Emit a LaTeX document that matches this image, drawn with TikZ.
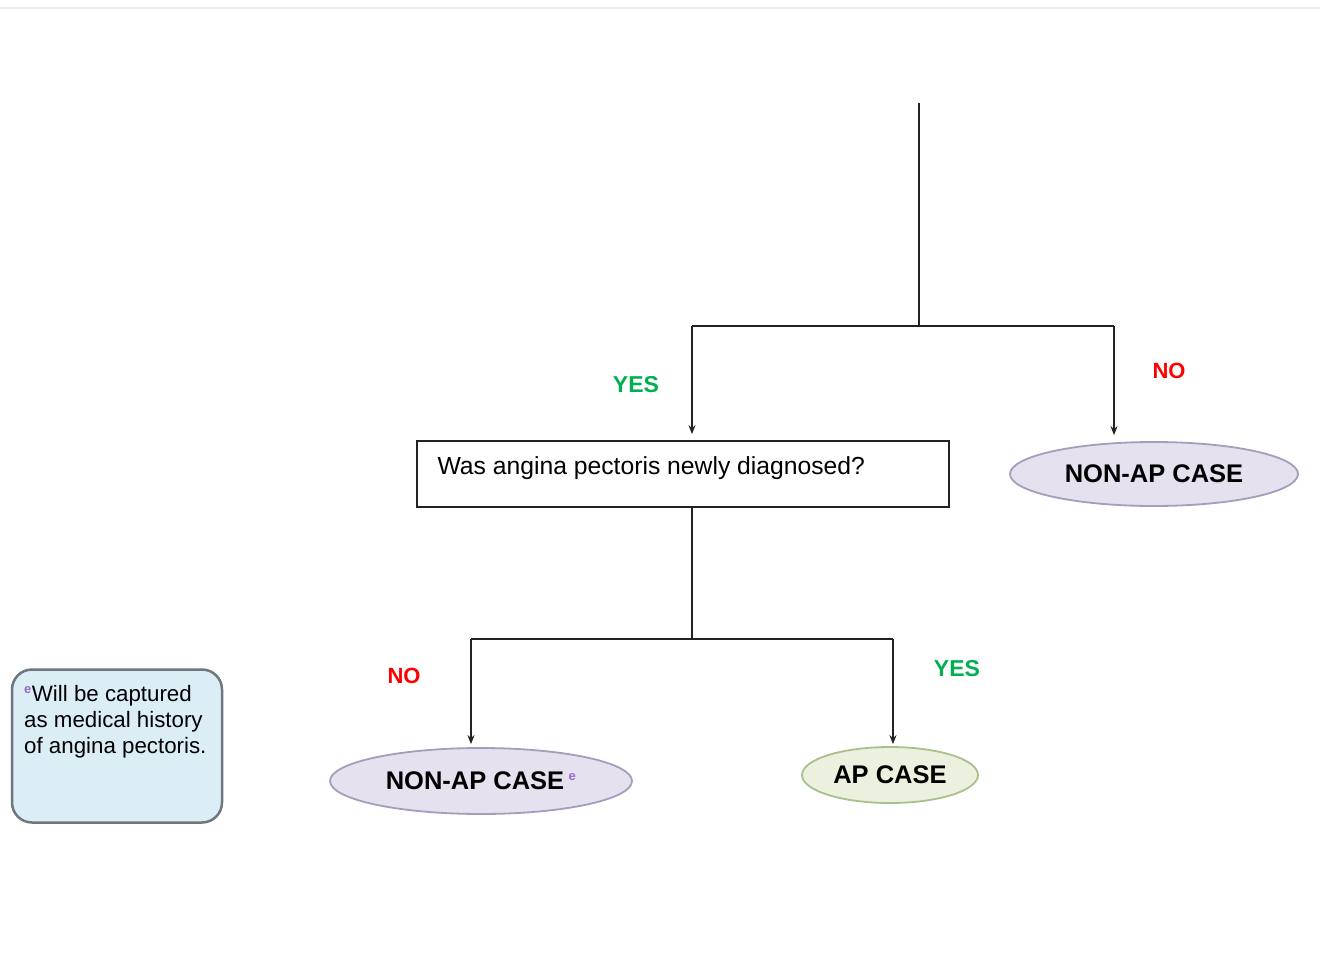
\documentclass[tikz,border=0pt]{standalone}
\usepackage{fontspec}
\setmainfont{Liberation Sans}
\usetikzlibrary{shapes.geometric,arrows.meta}
\definecolor{lavfill}{HTML}{E6E1EF}
\definecolor{lavedge}{HTML}{A69CBC}
\definecolor{grnfill}{HTML}{EBF1DE}
\definecolor{grnedge}{HTML}{A9C08C}
\definecolor{notefill}{HTML}{DCEEF5}
\definecolor{noteedge}{HTML}{6E767E}
\definecolor{yesgreen}{HTML}{00B050}
\definecolor{nored}{HTML}{FF0000}
\definecolor{markpurple}{HTML}{9966CC}
\definecolor{lineclr}{HTML}{222222}
\tikzset{
  conn/.style={draw=lineclr, line width=1.5pt},
  arr/.style={conn, -{Stealth[length=9pt,width=7pt]}, shorten >=6pt},
  outcome/.style={ellipse, draw=lavedge, fill=lavfill, line width=1.8pt, inner sep=0pt,
    font=\bfseries\fontsize{25.5}{28}\selectfont},
  yeslbl/.style={font=\bfseries\fontsize{23}{25}\selectfont, text=yesgreen},
  nolbl/.style={font=\bfseries\fontsize{22}{24}\selectfont, text=nored},
  qbox/.style={rectangle, draw=lineclr, line width=1.7pt, fill=white,
    minimum width=532pt, minimum height=66pt, inner sep=0pt},
  notebox/.style={rectangle, rounded corners=20pt, draw=noteedge, fill=notefill,
    line width=2.5pt, minimum width=210pt, minimum height=153pt, inner sep=0pt},
}
\newcommand{\emark}{\textsuperscript{\textcolor{markpurple}{\bfseries\fontsize{13}{13}\selectfont e}}}
\begin{document}
\begin{tikzpicture}[x=1pt,y=-1pt]
\useasboundingbox (0,0) rectangle (1320,971);
% faint rule across the top
\draw[draw=black!7, line width=2pt] (0,8) -- (1320,8);

% question box and outcomes
\node[qbox] (q) at (683,474) {};
\node[anchor=base west, font=\fontsize{24.7}{28}\selectfont] (qtext) at (434,474) {Was angina pectoris newly diagnosed?};
\node[outcome, minimum width=288pt, minimum height=64pt] (nonapA) at (1154,474) {NON-AP CASE};
\node[outcome, minimum width=302pt, minimum height=66pt] (nonapB) at (481,781) {NON-AP CASE\,\emark};
\node[outcome, draw=grnedge, fill=grnfill, minimum width=176pt, minimum height=56pt] (apcase) at (890,775) {AP CASE};

% note box
\node[notebox] (note) at (117,746) {};
\node[anchor=north west, align=left, inner sep=0pt,
  font=\fontsize{22.3}{26}\selectfont] (notetext) at (24,685)
  {\emark Will be captured\\as medical history\\of angina pectoris.};

% branch labels
\node[yeslbl] (yes1) at (636,385) {YES};
\node[nolbl] (no1) at (1169,371) {NO};
\node[nolbl] (no2) at (404,676) {NO};
\node[yeslbl] (yes2) at (957,669) {YES};

% connectors
\coordinate (start) at (919,103);
\coordinate (j1) at (919,326);
\coordinate (l1) at (692,326);
\coordinate (r1) at (1114,326);
\coordinate (l2) at (471,639);
\coordinate (r2) at (893,639);
\coordinate (m2) at (692,639);

\draw[conn] (start) -- (j1);
\draw[conn] (l1) -- (r1);
\draw[arr] (l1) -- (l1 |- q.north);
\draw[arr] (r1) -- (r1 |- nonapA.north);
\draw[conn] (l1 |- q.south) -- (m2);
\draw[conn] (l2) -- (r2);
\draw[arr, shorten >=3pt] (l2) -- (l2 |- nonapB.north);
\draw[arr, shorten >=2pt] (r2) -- (r2 |- apcase.north);
\end{tikzpicture}
\end{document}
